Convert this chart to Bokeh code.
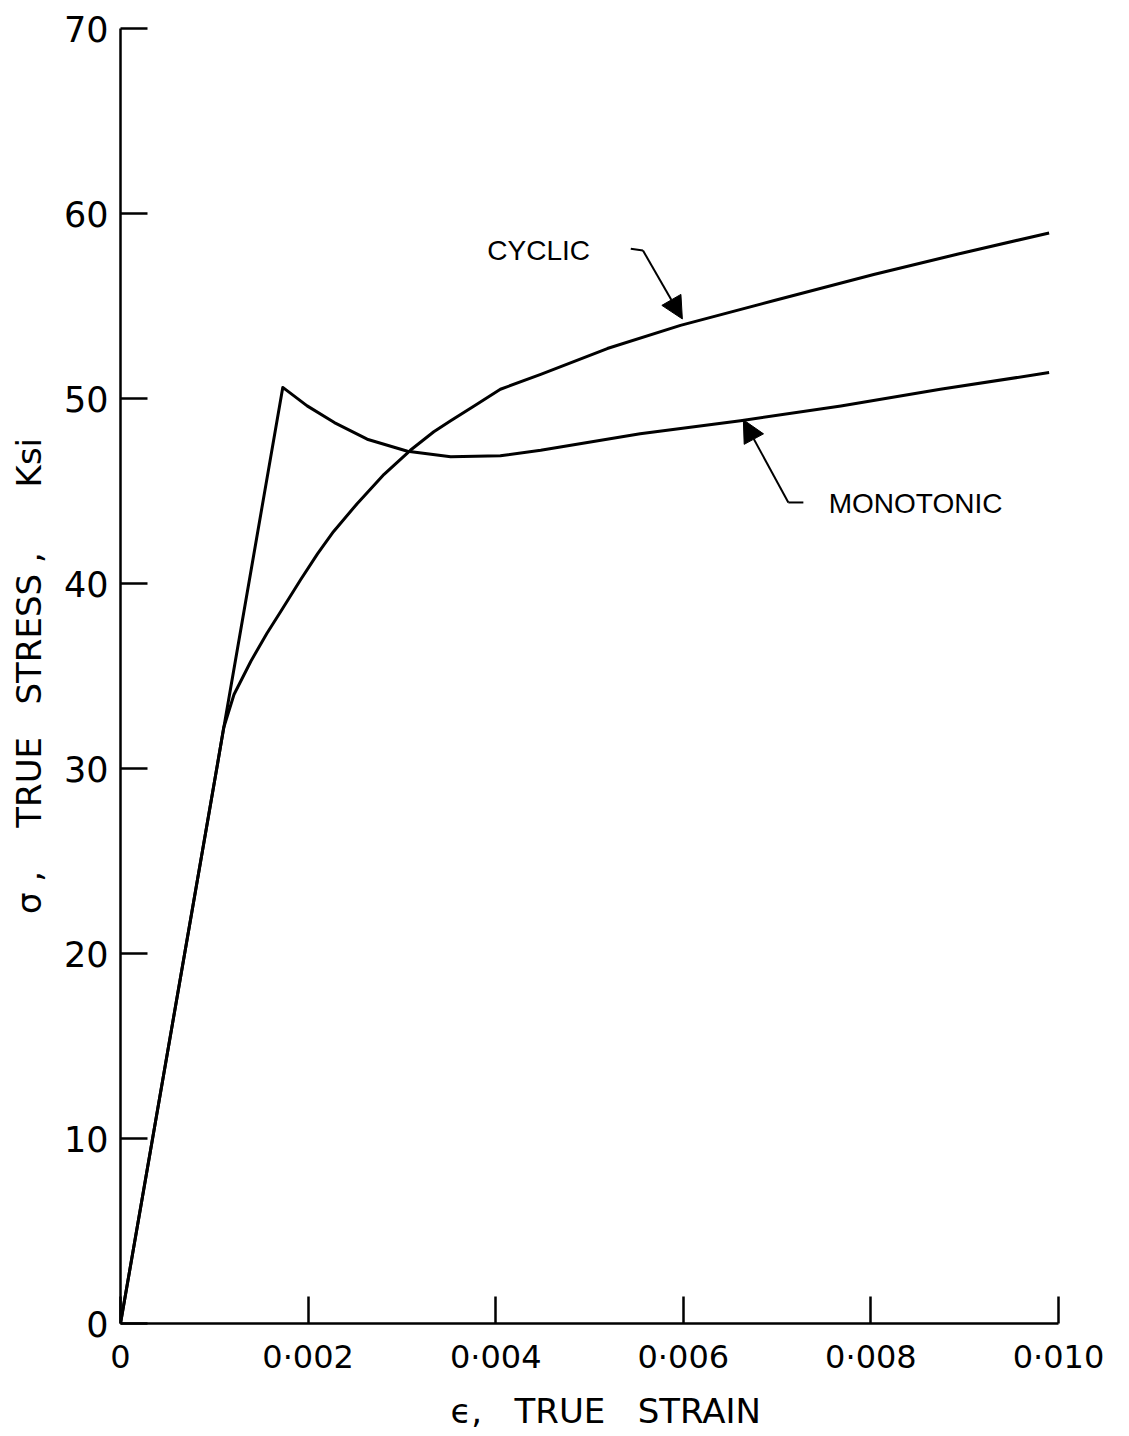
from bokeh.plotting import figure
from bokeh.models import Range1d, FixedTicker, CustomJSTickFormatter, Arrow, NormalHead
from bokeh.core.properties import value
from bokeh.embed import file_html
from bokeh.resources import INLINE

# True stress (ksi) against true strain
monotonic_strain = [0.0, 0.00173, 0.00199, 0.00228, 0.00263, 0.00306, 0.00352,
                    0.00405, 0.00448, 0.00554, 0.00661, 0.00768, 0.00874, 0.00990]
monotonic_stress = [0.0, 50.6, 49.6, 48.7, 47.8, 47.15, 46.85,
                    46.9, 47.2, 48.1, 48.8, 49.6, 50.5, 51.4]

cyclic_strain = [0.0, 0.00104, 0.0011, 0.00121, 0.00139, 0.00156, 0.00171, 0.00192,
                 0.0021, 0.00227, 0.00252, 0.00281, 0.00309, 0.00334, 0.00352,
                 0.00377, 0.00405, 0.00448, 0.00519, 0.00597, 0.00697, 0.00803,
                 0.00892, 0.00990]
cyclic_stress = [0.0, 30.4, 32.2, 34.0, 35.8, 37.3, 38.5, 40.2,
                 41.6, 42.8, 44.3, 45.9, 47.2, 48.2, 48.8,
                 49.6, 50.5, 51.3, 52.7, 53.95, 55.3, 56.7,
                 57.8, 58.95]

x_ticks = [0.0, 0.002, 0.004, 0.006, 0.008, 0.010]
y_ticks = [0, 10, 20, 30, 40, 50, 60, 70]

# callout labels: text, anchor, arrow leader (start, bend, tip)
labels = ["CYCLIC", "MONOTONIC"]
label_x = [0.00391, 0.00755]
label_y = [58.0, 44.3]
leader_x0 = [0.00544, 0.00728]
leader_y0 = [58.1, 44.38]
leader_x1 = [0.00557, 0.00712]
leader_y1 = [58.0, 44.38]
tip_x = [0.00599, 0.00664]
tip_y = [54.3, 48.85]

TICK_FONT = "DejaVu Sans"
LABEL_FONT = "Liberation Sans"
NB = "\u00a0"

p = figure(frame_width=938, frame_height=1295,
           min_border_left=120, min_border_right=71,
           min_border_top=28, min_border_bottom=113,
           x_range=Range1d(0, 0.010), y_range=Range1d(0, 70),
           output_backend="svg", toolbar_location=None,
           background_fill_color="white", border_fill_color="white")
p.outline_line_color = None
p.grid.visible = False

p.xaxis.ticker = FixedTicker(ticks=x_ticks)
p.yaxis.ticker = FixedTicker(ticks=y_ticks)
p.xaxis.formatter = CustomJSTickFormatter(code="""
    if (Math.abs(tick) < 1e-12) return "0";
    return "0\u00b7" + String(Math.round(tick * 1000)).padStart(3, "0");
""")
p.yaxis.formatter = CustomJSTickFormatter(code="return String(Math.round(tick));")

for ax in (p.xaxis[0], p.yaxis[0]):
    ax.axis_line_width = 2.5
    ax.axis_line_color = "black"
    ax.major_tick_line_width = 2.5
    ax.major_tick_line_color = "black"
    ax.major_tick_in = 27
    ax.major_tick_out = 0
    ax.minor_tick_line_color = None
    ax.major_label_text_font = TICK_FONT
    ax.major_label_text_font_size = "32px"
    ax.major_label_text_color = "black"
    ax.major_label_standoff = 14
    ax.axis_label_text_font = TICK_FONT
    ax.axis_label_text_font_size = "34px"
    ax.axis_label_text_font_style = "normal"
    ax.axis_label_text_color = "black"
    ax.axis_label_standoff = 12

p.yaxis.major_label_text_font_size = "35px"
p.yaxis.major_label_standoff = 12

p.xaxis.axis_label = NB * 3 + "\u03f5," + NB * 3 + "TRUE" + NB * 3 + "STRAIN"
p.yaxis.axis_label = ("\u03c3" + NB + "," + NB * 4 + "TRUE" + NB * 3 + "STRESS" + NB + ","
                      + NB * 6 + "Ksi")

p.line(monotonic_strain, monotonic_stress, line_color="black", line_width=3,
       line_join="round")
p.line(cyclic_strain, cyclic_stress, line_color="black", line_width=3,
       line_join="round")

# callout leaders and arrows
for i in range(len(labels)):
    p.line([leader_x0[i], leader_x1[i]], [leader_y0[i], leader_y1[i]],
           line_color="black", line_width=2)
    p.add_layout(Arrow(end=NormalHead(size=22, fill_color="black", line_color="black"),
                       x_start=leader_x1[i], y_start=leader_y1[i],
                       x_end=tip_x[i], y_end=tip_y[i],
                       line_color="black", line_width=2))

p.text(x=label_x, y=label_y, text=labels,
       text_font=value(LABEL_FONT), text_font_size="28px",
       text_align="left", text_baseline="middle", text_color="black")

open("out.html", "w").write(file_html(p, INLINE))
